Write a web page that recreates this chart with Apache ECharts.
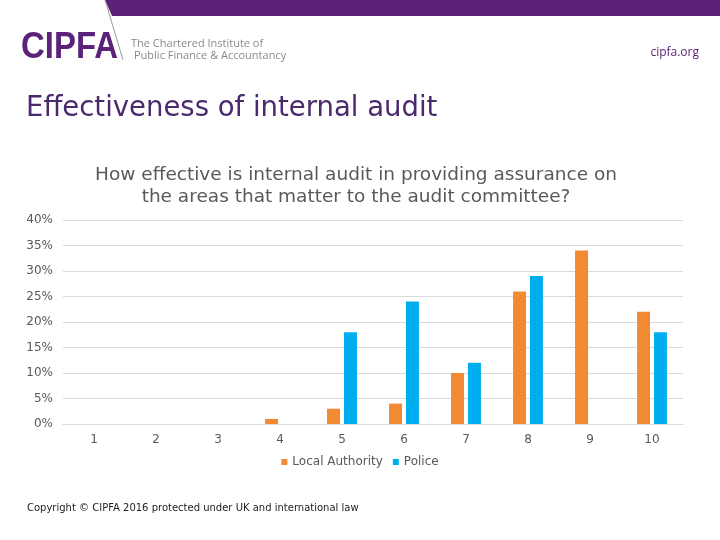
<!DOCTYPE html>
<html><head><meta charset="utf-8">
<script src="https://cdn.jsdelivr.net/npm/echarts@6/dist/echarts.min.js"></script>
<style>html,body{margin:0;padding:0;background:#fff}#c{width:720px;height:540px}</style>
</head><body><div id="c"></div>
<script>
const categories = ['1','2','3','4','5','6','7','8','9','10'];
const localAuthority = [0, 0, 0, 1, 3, 4, 10, 26, 34, 22];
const police = [0, 0, 0, 0, 18, 24, 12, 29, 0, 18];
const yTicks = [0, 5, 10, 15, 20, 25, 30, 35, 40];
const seriesNames = ['Local Authority', 'Police'];

const chart = echarts.init(document.getElementById('c'));
const FONT = '"DejaVu Sans"';
chart.setOption({
  animation: false,
  backgroundColor: '#fff',
  graphic: [
    { type: 'polygon', shape: { points: [[105,0],[720,0],[720,16],[112,16]] }, style: { fill: '#5C2279' } },
    { type: 'line', shape: { x1: 105, y1: 0, x2: 123, y2: 60 }, style: { stroke: '#999', lineWidth: 1 } },
    { type: 'text', x: 21, y: 29, scaleX: 0.89, originX: 0, style: { text: 'CIPFA', font: 'bold 37px "Liberation Sans"', fill: '#5C2279' } },
    { type: 'text', left: 131, top: 38, style: { text: 'The Chartered Institute of', font: '11px "Open Sans"', fill: '#8a8a8a' } },
    { type: 'text', left: 134, top: 50, style: { text: 'Public Finance & Accountancy', font: '11px "Open Sans"', fill: '#8a8a8a' } },
    { type: 'text', right: 21, top: 47, style: { text: 'cipfa.org', font: '12px "Open Sans"', fill: '#5C2279' } },
    { type: 'text', left: 26, top: 95, style: { text: 'Effectiveness of internal audit', font: '27.5px ' + FONT, fill: '#4B2A6B' } },
    { type: 'text', left: 27, top: 503, style: { text: 'Copyright © CIPFA 2016 protected under UK and international law', font: '10px ' + FONT, fill: '#222' } }
  ],
  title: {
    text: 'How effective is internal audit in providing assurance on\nthe areas that matter to the audit committee?',
    left: 351, top: 159, textAlign: 'center',
    textStyle: { fontFamily: FONT, fontSize: 18.5, fontWeight: 'normal', color: '#595959', lineHeight: 22 }
  },
  legend: {
    data: seriesNames, bottom: 67, left: 'center', icon: 'rect', itemWidth: 6, itemHeight: 6, itemGap: 10,
    textStyle: { fontFamily: FONT, fontSize: 12, color: '#595959' }
  },
  grid: { left: 63, right: 37, top: 220, bottom: 116, containLabel: false },
  xAxis: {
    type: 'category', data: categories,
    axisLine: { show: true, lineStyle: { color: '#d9d9d9' } }, axisTick: { show: false },
    axisLabel: { fontFamily: FONT, fontSize: 12, color: '#595959', margin: 10 }
  },
  yAxis: {
    type: 'value', min: 0, max: 40, interval: 5,
    axisLine: { show: false }, axisTick: { show: false },
    splitLine: { lineStyle: { color: '#d9d9d9' } },
    axisLabel: { fontFamily: FONT, fontSize: 12, color: '#595959', margin: 10, formatter: v => yTicks.includes(v) ? v + '%' : '' }
  },
  series: [
    { name: seriesNames[0], type: 'bar', data: localAuthority, barWidth: 13, barGap: '30%', itemStyle: { color: '#F28A33' } },
    { name: seriesNames[1], type: 'bar', data: police, barWidth: 13, itemStyle: { color: '#00AEEF' } }
  ]
});
</script></body></html>
